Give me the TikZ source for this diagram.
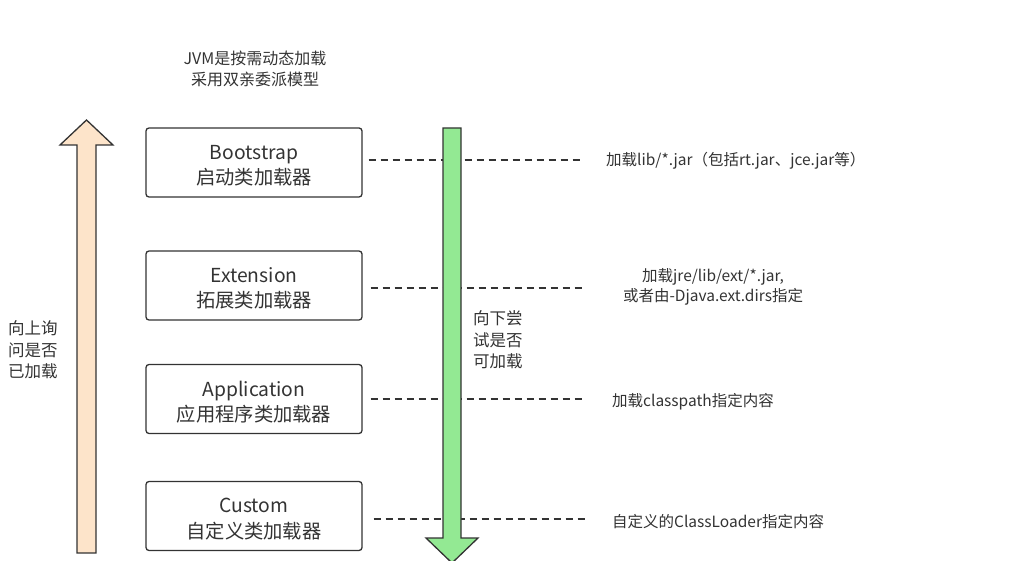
\documentclass[tikz,border=0pt]{standalone}
\usepackage{fontspec}
\setmainfont{Noto Sans CJK SC}
\definecolor{txt}{HTML}{333333}
\definecolor{peach}{HTML}{FDE4CA}
\definecolor{lgreen}{HTML}{93E993}
\begin{document}
\begin{tikzpicture}[x=1pt,y=-1pt,
  loader/.style={draw=txt,line width=1.3pt,rounded corners=3pt,minimum width=216pt,minimum height=69pt,inner sep=0pt},
  boxtxt/.style={align=center,text=txt,inner sep=0pt,font=\fontsize{19.3}{25.5}\selectfont},
  note/.style={text=txt,align=center,inner sep=0pt,font=\fontsize{15.5}{20}\selectfont},
  side/.style={text=txt,align=left,inner sep=0pt,font=\fontsize{16.5}{21.5}\selectfont},
  link/.style={dashed,dash pattern=on 7pt off 5pt,line width=1.2pt,draw=txt},
  bigarrow/.style={draw=txt,line width=1.3pt,line join=miter}]
\useasboundingbox (0,0) rectangle (1010,561);
% title
\node[note,font=\fontsize{16}{21}\selectfont] (title) at (255,69) {JVM是按需动态加载\\采用双亲委派模型};
% loaders
\node[loader] (boot) at (254,162.5) {};
\node[loader] (ext) at (254,285.5) {};
\node[loader] (app) at (254,399) {};
\node[loader] (cust) at (254,516) {};
\node[boxtxt] (bootl) at ([yshift=-3pt]boot.center) {Bootstrap\\启动类加载器};
\node[boxtxt] (extl) at ([yshift=-3pt]ext.center) {Extension\\拓展类加载器};
\node[boxtxt] (appl) at ([yshift=-3pt]app.center) {Application\\应用程序类加载器};
\node[boxtxt] (custl) at ([yshift=-3pt]cust.center) {Custom\\自定义类加载器};
% dashed connectors
\coordinate (e1) at (581,160);
\coordinate (e2) at (583,288);
\coordinate (e3) at (583,399);
\coordinate (e4) at (586,519);
\draw[link] ([xshift=6pt]boot.east |- e1) -- (e1);
\draw[link] ([xshift=8pt]ext.east |- e2) -- (e2);
\draw[link] ([xshift=8pt]app.east |- e3) -- (e3);
\draw[link] ([xshift=11pt]cust.east |- e4) -- (e4);
% up arrow (peach)
\filldraw[bigarrow,fill=peach] (77,553) -- (77,145) -- (60,145) -- (86.5,120) -- (113,145) -- (96,145) -- (96,553) -- cycle;
% down arrow (green)
\filldraw[bigarrow,fill=lgreen] (443,128) -- (461,128) -- (461,538) -- (478,538) -- (452,563) -- (426,538) -- (443,538) -- cycle;
% notes
\node[note,anchor=west] (n1) at (606,161) {加载lib/*.jar（包括rt.jar、jce.jar等）};
\node[note] (n2) at (713,287) {加载jre/lib/ext/*.jar,\\或者由-Djava.ext.dirs指定};
\node[note,anchor=west] (n3) at (612,402) {加载classpath指定内容};
\node[note,anchor=west] (n4) at (612,522) {自定义的ClassLoader指定内容};
\node[side,anchor=west] (up) at (8,350) {向上询\\问是否\\已加载};
\node[side,anchor=west] (down) at (473,340) {向下尝\\试是否\\可加载};
\end{tikzpicture}
\end{document}
